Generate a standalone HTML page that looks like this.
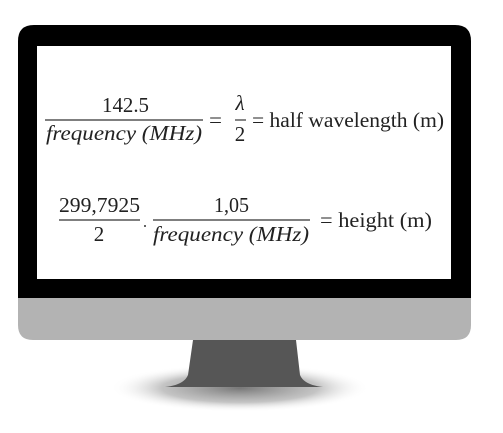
<!DOCTYPE html>
<html><head><meta charset="utf-8"><style>
html,body{margin:0;padding:0;background:#fff;width:503px;height:433px;overflow:hidden}
svg{display:block}
text{font-family:"Liberation Serif","DejaVu Serif",serif;fill:#222}
</style></head><body>
<svg width="503" height="433" viewBox="0 0 503 433">
<defs>
<radialGradient id="sh" cx="50%" cy="50%" r="50%">
<stop offset="0%" stop-color="#777"/><stop offset="60%" stop-color="#aaa" stop-opacity="0.7"/><stop offset="100%" stop-color="#fff" stop-opacity="0"/>
</radialGradient>
</defs>
<ellipse cx="240" cy="388" rx="130" ry="24" fill="url(#sh)"/>
<path d="M193 340 L296 340 L300 375 Q304 385 323 387 L165 387 Q184 385 188 375 Z" fill="#565656"/>
<path d="M18 297 H471 V325 Q471 340 456 340 H33 Q18 340 18 325 Z" fill="#b3b3b3"/>
<path d="M34 25 H455 Q471 25 471 41 V298 H18 V41 Q18 25 34 25 Z" fill="#000"/>
<rect x="37" y="46" width="414" height="233" fill="#fff"/>
<g font-size="21" font-family="Liberation Serif, DejaVu Serif, serif">
<text x="102" y="112" textLength="47" lengthAdjust="spacingAndGlyphs">142.5</text>
<line x1="45" y1="120" x2="203" y2="120" stroke="#333" stroke-width="1.2"/>
<text x="46" y="140" font-style="italic" textLength="156" lengthAdjust="spacingAndGlyphs">frequency (MHz)</text>
<text x="209" y="127" textLength="13" lengthAdjust="spacingAndGlyphs">=</text>
<text x="240" y="110" text-anchor="middle" font-style="italic">λ</text>
<line x1="235" y1="120" x2="246" y2="120" stroke="#333" stroke-width="1.2"/>
<text x="240" y="141" text-anchor="middle">2</text>
<text x="252" y="127" textLength="192" lengthAdjust="spacingAndGlyphs">= half wavelength (m)</text>
</g>
<g font-size="21" font-family="Liberation Serif, DejaVu Serif, serif">
<text x="59" y="212" textLength="81" lengthAdjust="spacingAndGlyphs">299,7925</text>
<line x1="59" y1="220" x2="140" y2="220" stroke="#333" stroke-width="1.2"/>
<text x="99" y="241" text-anchor="middle">2</text>
<circle cx="145" cy="226" r="1" fill="#333"/>
<text x="214" y="212" textLength="35" lengthAdjust="spacingAndGlyphs">1,05</text>
<line x1="153" y1="220" x2="310" y2="220" stroke="#333" stroke-width="1.2"/>
<text x="153" y="241" font-style="italic" textLength="156" lengthAdjust="spacingAndGlyphs">frequency (MHz)</text>
<text x="320" y="227" textLength="112" lengthAdjust="spacingAndGlyphs">= height (m)</text>
</g>
</svg>
</body></html>
